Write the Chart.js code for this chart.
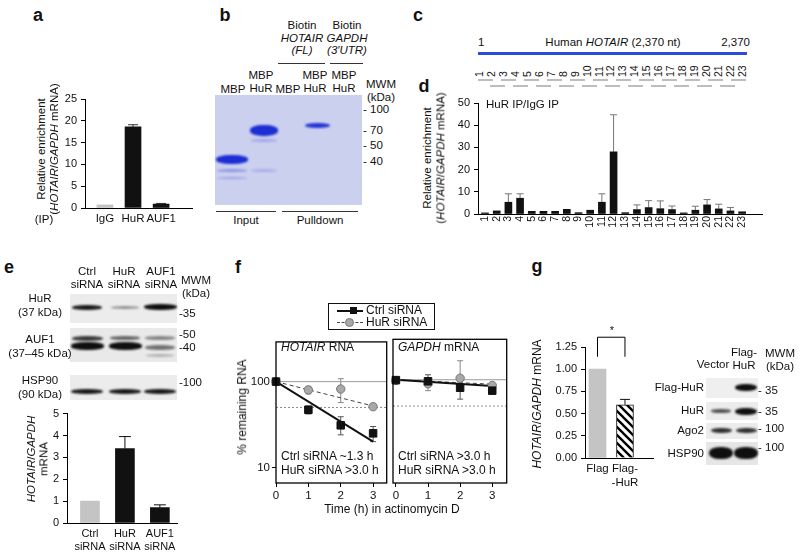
<!DOCTYPE html>
<html>
<head>
<meta charset="utf-8">
<script src="https://cdn.jsdelivr.net/npm/chart.js"></script>
<style>
  body { margin: 0; background: #fff; }
  #fig { position: relative; width: 800px; height: 556px; overflow: hidden;
         font-family: "Liberation Sans", Arial, sans-serif; font-size: 11px; color: #111; }
  .band { position: absolute; border-radius: 45%; filter: blur(1px); }
</style>
</head>
<body>
<div id="fig"></div>
<script>
// ---------------- DATA ----------------
// a: RIP enrichment
const ipLabels = ['IgG', 'HuR', 'AUF1'];
const ipEnrich = [0.7, 18.6, 0.9];
const ipErr = [0, 0.5, 0.15];

// d: HOTAIR fragments, HuR IP / IgG IP
const fragLabels = ['1','2','3','4','5','6','7','8','9','10','11','12','13','14','15','16','17','18','19','20','21','22','23'];
const fragEnrich = [0.5, 1.4, 5.3, 7.1, 1.2, 1.2, 1.2, 2.1, 0.6, 1.7, 5.3, 28, 0.6, 2.0, 2.9, 2.4, 2.0, 0.5, 1.7, 4.1, 2.3, 1.4, 1.0];
const fragErr    = [0, 0, 3.8, 2.0, 0, 0, 0, 0, 0, 0, 3.8, 16.7, 0, 2.1, 3.1, 3.5, 1.6, 0, 1.8, 2.4, 2.1, 1.5, 0];

// e: HOTAIR/GAPDH after siRNA
const siLabels = [['Ctrl', 'siRNA'], ['HuR', 'siRNA'], ['AUF1', 'siRNA']];
const siHotair = [1.0, 3.4, 0.7];
const siErr = [0, 0.55, 0.13];

// f: % remaining RNA in actinomycin D
const timeH = [0, 1, 2, 3];
const hotCtrl   = [100, 47, 31, 25];
const hotCtrlHi = [null, 52, 39, 30];
const hotCtrlLo = [null, 42, 24, 20];
const hotHuR    = [100, 80, 82, 51];
const hotHuRHi  = [null, 88, 108, 54];
const hotHuRLo  = [null, 72, 57, 49];
const gapCtrl   = [99, 96, 81, 75];
const gapCtrlHi = [null, 114, 95, 80];
const gapCtrlLo = [null, 84, 60, 70];
const gapHuR    = [98, 90, 104, 86];
const gapHuRHi  = [null, 104, 165, 90];
const gapHuRLo  = [null, 75, 85, 81];
const fitT = [0, 3];
const hotCtrlFit = [100, 20];
const hotHuRFit  = [100, 52];
const gapCtrlFit = [100, 85];
const gapHuRFit  = [100, 89];
const refLevels = [100, 50];
const logTicks = [10, 100];
const timeTicks = [0, 1, 2, 3];

// g: Flag-HuR overexpression
const flagLabels = ['Flag', ['Flag-', '-HuR']];
const flagVals = [1.0, 0.6];
const flagErr = [0, 0.06];

// ---------------- HELPERS ----------------
Chart.defaults.font.family = '"Liberation Sans", Arial, sans-serif';
Chart.defaults.font.size = 11;
Chart.defaults.color = '#111';
Chart.defaults.animation = false;

const fig = document.getElementById('fig');
function el(css, html) {
  const d = document.createElement('div');
  d.style.cssText = 'position:absolute;' + css;
  if (html) d.innerHTML = html;
  fig.appendChild(d);
  return d;
}
function T(x, y, html, o) {
  o = o || {};
  const tx = {c: '-50%', l: '0', r: '-100%'}[o.a || 'c'];
  el(`left:${x}px;top:${y}px;white-space:nowrap;line-height:${o.lh || 1.15};text-align:center;font-size:${o.s || 11.5}px;` +
     (o.b ? 'font-weight:bold;' : '') +
     `transform:translate(${tx},-50%)${o.rot ? ' rotate(-90deg)' : ''};`, html);
}
function box(x, y, w, h, bg) { return el(`left:${x}px;top:${y}px;width:${w}px;height:${h}px;background:${bg};`); }
function band(cx, cy, w, h, col) {
  const d = el(`left:${cx - w / 2}px;top:${cy - h / 2}px;width:${w}px;height:${h}px;background:${col};`);
  d.className = 'band';
}

// canvas placed so the chart area lands on the given page box
function chartBox(area, yW, xH, pt, pr, pl) {
  pt = pt ?? 12; pr = pr ?? 12; pl = pl ?? 2;
  const cv = document.createElement('canvas');
  const w = area.r - area.l + yW + pl + pr, h = area.b - area.t + pt + xH;
  cv.style.cssText = `position:absolute;left:${area.l - yW - pl}px;top:${area.t - pt}px;width:${w}px;height:${h}px;`;
  cv.width = w; cv.height = h;
  fig.appendChild(cv);
  return {cv, padding: {left: pl, top: pt, right: pr, bottom: 0}};
}

function yLin(min, max, step, width, fmt) {
  return {
    min, max,
    ticks: {stepSize: step, padding: 4, callback: fmt || (v => v)},
    grid: {display: true, drawOnChartArea: false, drawTicks: true, tickLength: 4, color: '#000'},
    border: {display: true, color: '#000', width: 1},
    afterFit: s => { s.width = width; }
  };
}
function xBars(min, max, labels, height, extra) {
  return {
    type: 'linear', min, max, offset: false,
    afterBuildTicks: s => { s.ticks = labels.map((_, i) => ({value: i + 1})); },
    ticks: Object.assign({callback: v => labels[v - 1], autoSkip: false, maxRotation: 0, padding: 4}, extra || {}),
    grid: {display: false, drawTicks: false, offset: false},
    border: {display: true, color: '#000', width: 1},
    afterFit: s => { s.height = height; }
  };
}
const pts = (xs, ys) => ys.map((v, i) => ({x: xs[i], y: v}));
const barPts = ys => ys.map((v, i) => ({x: i + 1, y: v}));

// ---------------- PLUGINS ----------------
const errBars = {
  id: 'errBars',
  beforeDatasetsDraw(chart, args, o) {
    const ctx = chart.ctx, ys = chart.scales.y;
    (o.sets || []).forEach(s => {
      const meta = chart.getDatasetMeta(s.ds);
      const ds = chart.data.datasets[s.ds];
      ctx.save();
      ctx.strokeStyle = s.color || '#000';
      ctx.lineWidth = s.lw || 1;
      meta.data.forEach((p, i) => {
        const v = ds.data[i].y;
        let hi, lo;
        if (s.err) { if (!s.err[i]) return; hi = v + s.err[i]; lo = v; }
        else { if (s.hi[i] == null) return; hi = s.hi[i]; lo = s.lo[i]; }
        const x = p.x, y1 = ys.getPixelForValue(hi), y0 = ys.getPixelForValue(lo), c = s.cap || 3;
        ctx.beginPath();
        ctx.moveTo(x, y0); ctx.lineTo(x, y1);
        ctx.moveTo(x - c, y1); ctx.lineTo(x + c, y1);
        if (!s.err) { ctx.moveTo(x - c, y0); ctx.lineTo(x + c, y0); }
        ctx.stroke();
      });
      ctx.restore();
    });
  }
};
const frame = {
  id: 'frame',
  afterDraw(chart) {
    const a = chart.chartArea, ctx = chart.ctx;
    ctx.save(); ctx.strokeStyle = '#000'; ctx.lineWidth = 1.3;
    ctx.strokeRect(a.left, a.top, a.right - a.left, a.bottom - a.top);
    ctx.restore();
  }
};
const bracket = {
  id: 'bracket',
  afterDraw(chart, args, o) {
    const xs = chart.scales.x, ys = chart.scales.y, ctx = chart.ctx;
    const x1 = xs.getPixelForValue(o.from), x2 = xs.getPixelForValue(o.to);
    const yt = ys.getPixelForValue(o.top), yl = ys.getPixelForValue(o.leg);
    ctx.save(); ctx.strokeStyle = '#000'; ctx.lineWidth = 1;
    ctx.beginPath();
    ctx.moveTo(x1, yl); ctx.lineTo(x1, yt); ctx.lineTo(x2, yt); ctx.lineTo(x2, yl);
    ctx.stroke(); ctx.restore();
  }
};

// ---------------- PANEL LETTERS ----------------
[['a', 38, 15], ['b', 225, 15], ['c', 418, 15], ['d', 424, 86], ['e', 9, 267], ['f', 238, 267], ['g', 537, 266]]
  .forEach(l => T(l[1], l[2], l[0], {s: 18, b: true}));

// ---------------- PANEL a ----------------
{
  const g = chartBox({l: 85, t: 99, r: 192, b: 208}, 26, 24);
  new Chart(g.cv, {
    type: 'bar',
    data: {datasets: [{data: barPts(ipEnrich), backgroundColor: ['#c4c4c4', '#111', '#111'], barThickness: 16}]},
    options: {
      responsive: false, layout: {padding: g.padding},
      plugins: {legend: {display: false}, tooltip: {enabled: false},
                errBars: {sets: [{ds: 0, err: ipErr, color: '#333', cap: 5}]}},
      scales: {x: xBars(0.29, 4.1, ipLabels, 24, {font: {size: 11.5}}), y: yLin(0, 25, 5, 26)}
    },
    plugins: [errBars]
  });
  T(42, 149, 'Relative enrichment', {rot: true});
  T(55, 149, '(<i>HOTAIR</i>/<i>GAPDH</i> mRNA)', {rot: true});
  T(44, 220, '(IP)');
}

// ---------------- PANEL b (gel) ----------------
{
  box(215, 95, 147, 110, 'rgb(203,208,238)');
  const blue = 'rgba(28,45,212,';
  band(232, 159, 32, 9, blue + '1)');
  band(232, 170, 30, 3, blue + '0.35)');
  band(232, 178, 30, 2, blue + '0.25)');
  band(264, 130, 28, 11, blue + '1)');
  band(264, 140, 26, 3, blue + '0.25)');
  band(264, 170, 26, 3, blue + '0.2)');
  band(317, 125, 25, 5, blue + '0.95)');
  T(233, 90, 'MBP');
  T(261, 82, 'MBP<br>HuR', {lh: 1.1});
  T(288, 90, 'MBP');
  T(315, 82, 'MBP<br>HuR', {lh: 1.1});
  T(344, 82, 'MBP<br>HuR', {lh: 1.1});
  T(302, 38, 'Biotin<br><i>HOTAIR</i><br><i>(FL)</i>', {lh: 1.1});
  T(347, 38, 'Biotin<br><i>GAPDH</i><br><i>(3′UTR)</i>', {lh: 1.1});
  box(278, 63, 47, 1, '#333');
  box(330, 63, 33, 1, '#333');
  T(366, 91, 'MWM<br>(kDa)', {a: 'l', lh: 1.1});
  [['100', 110], ['70', 131], ['50', 146], ['40', 162]].forEach(m => T(363, m[1], '- ' + m[0], {a: 'l'}));
  box(216, 211, 60, 1, '#333');
  box(282, 211, 76, 1, '#333');
  T(246, 221, 'Input');
  T(320, 221, 'Pulldown');
}

// ---------------- PANEL c (map) ----------------
{
  T(478, 43, '1', {a: 'l'});
  T(613, 43, 'Human <i>HOTAIR</i> (2,370 nt)');
  T(750, 43, '2,370', {a: 'r'});
  box(478, 52, 269, 3, '#2b4bd8');
  fragLabels.forEach((t, i) => {
    el(`left:${479 + i * 11.95 - 6}px;top:77px;font-size:10.5px;line-height:12px;white-space:nowrap;transform-origin:0 0;transform:rotate(-90deg);`, t);
  });
  for (let i = 0; i < 12; i++) box(478 + 23 * i, 79, 15, 2, '#bdbdbd');
  for (let i = 0; i < 11; i++) box(490 + 23 * i, 85, 15, 2, '#bdbdbd');
}

// ---------------- PANEL d ----------------
{
  const g = chartBox({l: 478, t: 103, r: 762, b: 214}, 30, 26);
  new Chart(g.cv, {
    type: 'bar',
    data: {datasets: [{data: barPts(fragEnrich), backgroundColor: '#111', barThickness: 7}]},
    options: {
      responsive: false, layout: {padding: g.padding},
      plugins: {legend: {display: false}, tooltip: {enabled: false},
                errBars: {sets: [{ds: 0, err: fragErr, color: '#777', cap: 3.5}]}},
      scales: {x: xBars(0.4, 24.7, fragLabels, 26, {minRotation: 90, maxRotation: 90, padding: 2, font: {size: 10.5}}),
               y: yLin(0, 50, 10, 30)}
    },
    plugins: [errBars]
  });
  T(428, 158, 'Relative enrichment', {rot: true});
  T(441, 158, '(<i>HOTAIR</i>/<i>GAPDH</i> mRNA)', {rot: true});
  T(486, 105, 'HuR IP/IgG IP', {a: 'l'});
}

// ---------------- PANEL e ----------------
{
  const k = 'rgba(15,15,15,';
  const lanes = [87, 125, 160];
  T(87, 278, 'Ctrl<br>siRNA', {lh: 1.1});
  T(124, 278, 'HuR<br>siRNA', {lh: 1.1});
  T(161, 278, 'AUF1<br>siRNA', {lh: 1.1});
  T(181, 287, 'MWM<br>(kDa)', {a: 'l', lh: 1.1});
  box(70, 294, 107, 29, '#ececec');
  band(lanes[0], 307, 30, 5, k + '0.95)');
  band(lanes[1], 307, 28, 3, k + '0.4)');
  band(lanes[2], 307, 33, 6, k + '1)');
  box(70, 328, 107, 34, '#e9e9e9');
  band(lanes[0], 338, 31, 5, k + '0.8)');
  band(lanes[1], 338, 30, 4, k + '0.6)');
  band(lanes[2], 338, 30, 4, k + '0.45)');
  band(lanes[0], 346, 33, 8, k + '1)');
  band(lanes[1], 346, 33, 8, k + '1)');
  band(lanes[2], 347, 30, 5, k + '0.55)');
  band(lanes[2], 355, 28, 3, k + '0.25)');
  box(70, 375, 107, 25, '#ececec');
  lanes.forEach(x => band(x, 391, 32, 5, k + '0.95)'));
  T(40, 305, 'HuR<br>(37 kDa)', {lh: 1.25});
  T(40, 346, 'AUF1<br>(37–45 kDa)', {lh: 1.25});
  T(40, 387, 'HSP90<br>(90 kDa)', {lh: 1.25});
  [['-35', 314], ['-50', 335], ['-40', 348], ['-100', 383]].forEach(m => T(179, m[1], m[0], {a: 'l'}));

  const g = chartBox({l: 67, t: 413, r: 177, b: 523}, 20, 32, 10);
  new Chart(g.cv, {
    type: 'bar',
    data: {datasets: [{data: barPts(siHotair), backgroundColor: ['#c4c4c4', '#111', '#111'], barThickness: 19}]},
    options: {
      responsive: false, layout: {padding: g.padding},
      plugins: {legend: {display: false}, tooltip: {enabled: false},
                errBars: {sets: [{ds: 0, err: siErr, color: '#111', cap: 6}]}},
      scales: {x: xBars(0.343, 3.49, siLabels, 32, {padding: 4, font: {size: 11}}), y: yLin(0, 5, 1, 20)}
    },
    plugins: [errBars]
  });
  T(32, 459, '<i>HOTAIR</i>/<i>GAPDH</i>', {rot: true});
  T(44, 459, 'mRNA', {rot: true});
}

// ---------------- PANEL f ----------------
function decayChart(area, yW, pl, xmin, xmax, ctrl, ctrlHi, ctrlLo, huR, huRHi, huRLo, ctrlFit, huRFit, showY) {
  const g = chartBox(area, yW, 18, 4, 4, pl);
  const refs = refLevels.map((lv, i) => ({
    data: [{x: xmin, y: lv}, {x: xmax, y: lv}], showLine: true, pointRadius: 0,
    borderColor: i === 0 ? '#9a9a9a' : '#8a8a8a', borderWidth: 1, borderDash: i === 0 ? [] : [2, 2], order: 10
  }));
  new Chart(g.cv, {
    type: 'scatter',
    data: {datasets: [
      {data: pts(timeH, ctrl), pointStyle: 'rect', pointRadius: 5.3, backgroundColor: '#111', borderColor: '#111', order: 1, clip: false},
      {data: pts(timeH, huR), pointStyle: 'circle', pointRadius: 4.2, backgroundColor: '#a8a8a8', borderColor: '#777', borderWidth: 1, order: 2, clip: false},
      {data: pts(fitT, ctrlFit), showLine: true, pointRadius: 0, borderColor: '#111', borderWidth: 2, order: 3},
      {data: pts(fitT, huRFit), showLine: true, pointRadius: 0, borderColor: '#444', borderWidth: 1, borderDash: [4, 3], order: 4},
      ...refs
    ]},
    options: {
      responsive: false, layout: {padding: g.padding},
      plugins: {legend: {display: false}, tooltip: {enabled: false},
                errBars: {sets: [{ds: 1, hi: huRHi, lo: huRLo, color: '#888', cap: 3},
                                 {ds: 0, hi: ctrlHi, lo: ctrlLo, color: '#555', cap: 3}]}},
      scales: {
        x: {type: 'linear', min: xmin, max: xmax,
            afterBuildTicks: s => { s.ticks = timeTicks.map(v => ({value: v})); },
            ticks: {padding: 2, callback: v => v, font: {size: 11.5}},
            grid: {display: true, drawOnChartArea: false, drawTicks: true, tickLength: 4, color: '#000'},
            border: {display: false},
            afterFit: s => { s.height = 18; }},
        y: {type: 'logarithmic', min: 6.6, max: 290, display: showY,
            afterBuildTicks: s => { s.ticks = logTicks.map(v => ({value: v})); },
            ticks: {padding: 2, callback: v => String(v), font: {size: 11.5}},
            grid: {display: true, drawOnChartArea: false, drawTicks: true, tickLength: 4, color: '#000'},
            border: {display: false},
            afterFit: s => { s.width = yW; }}
      }
    },
    plugins: [errBars, frame]
  });
}
decayChart({l: 276, t: 337, r: 389, b: 483}, 26, 2, 0, 3.42,
  hotCtrl, hotCtrlHi, hotCtrlLo, hotHuR, hotHuRHi, hotHuRLo, hotCtrlFit, hotHuRFit, true);
decayChart({l: 393, t: 337, r: 509, b: 483}, 0, 8, -0.09, 3.45,
  gapCtrl, gapCtrlHi, gapCtrlLo, gapHuR, gapHuRHi, gapHuRLo, gapCtrlFit, gapHuRFit, false);
{
  T(281, 348, '<i>HOTAIR</i> RNA', {a: 'l', s: 12});
  T(398, 348, '<i>GAPDH</i> mRNA', {a: 'l', s: 12});
  T(281, 457, 'Ctrl siRNA ~1.3 h', {a: 'l', s: 12});
  T(281, 471, 'HuR siRNA >3.0 h', {a: 'l', s: 12});
  T(398, 457, 'Ctrl siRNA >3.0 h', {a: 'l', s: 12});
  T(398, 471, 'HuR siRNA >3.0 h', {a: 'l', s: 12});
  T(243, 407, '% remaining RNA', {rot: true, s: 12});
  T(392, 510, 'Time (h) in actinomycin D', {s: 12});
  // legend
  el('left:328px;top:303px;width:105px;height:25px;border:1px solid #111;');
  el('left:337px;top:310px;width:26px;height:0;border-top:2px solid #111;');
  el('left:350px;top:307px;width:7px;height:7px;background:#111;');
  el('left:337px;top:322px;width:26px;height:0;border-top:1px dashed #444;');
  el('left:345px;top:318px;width:7px;height:7px;border-radius:50%;background:#a8a8a8;border:1px solid #777;');
  T(366, 311, 'Ctrl siRNA', {a: 'l', s: 12});
  T(366, 323, 'HuR siRNA', {a: 'l', s: 12});
}

// ---------------- PANEL g ----------------
{
  const hc = document.createElement('canvas'); hc.width = 8; hc.height = 8;
  const hx = hc.getContext('2d');
  hx.fillStyle = '#fff'; hx.fillRect(0, 0, 8, 8);
  hx.strokeStyle = '#000'; hx.lineWidth = 2.3;
  hx.beginPath();
  hx.moveTo(-1, -1); hx.lineTo(9, 9);
  hx.moveTo(-5, 3); hx.lineTo(5, 13);
  hx.moveTo(3, -5); hx.lineTo(13, 5);
  hx.stroke();
  const hatch = hx.createPattern(hc, 'repeat');

  const g = chartBox({l: 585, t: 347, r: 653, b: 458}, 32, 32, 26);
  new Chart(g.cv, {
    type: 'bar',
    data: {datasets: [{data: barPts(flagVals), backgroundColor: ['#c4c4c4', hatch],
                       borderColor: ['#c4c4c4', '#111'], borderWidth: [0, 1], barThickness: 17}]},
    options: {
      responsive: false, layout: {padding: g.padding},
      plugins: {legend: {display: false}, tooltip: {enabled: false},
                errBars: {sets: [{ds: 0, err: flagErr, color: '#111', cap: 5}]},
                bracket: {from: 1, to: 2, top: 1.36, leg: 1.14}},
      scales: {x: xBars(0.545, 3.02, flagLabels, 32, {padding: 4, font: {size: 11.5}}),
               y: yLin(0, 1.25, 0.25, 32, v => v.toFixed(2))}
    },
    plugins: [errBars, bracket]
  });
  T(612, 330, '*', {s: 11});
  T(538, 404, '<i>HOTAIR</i>/<i>GAPDH</i> mRNA', {rot: true, s: 12});

  const k = 'rgba(15,15,15,';
  const lanes = [721, 746];
  T(713, 365, 'Vector', {s: 11.5});
  T(744, 359, 'Flag-<br>HuR', {s: 11.5, lh: 1.1});
  T(765, 360, 'MWM<br>(kDa)', {a: 'l', s: 11.5, lh: 1.1});
  box(706, 378, 52, 20, '#efefef');
  band(lanes[1], 387, 22, 7, k + '1)');
  box(706, 402, 52, 18, '#ececec');
  band(lanes[0], 411, 20, 4, k + '0.7)');
  band(lanes[1], 411, 22, 7, k + '1)');
  box(706, 423, 52, 16, '#ececec');
  lanes.forEach(x => band(x, 430, 21, 5, k + '0.85)'));
  box(706, 442, 52, 23, '#e6e6e6');
  lanes.forEach(x => band(x, 453, 24, 12, k + '1)'));
  [['Flag-HuR', 388], ['HuR', 411], ['Ago2', 431], ['HSP90', 454]].forEach(m => T(704, m[1], m[0], {a: 'r', s: 11.5}));
  [['- 35', 391], ['- 35', 412], ['- 100', 429], ['- 100', 448]].forEach(m => T(758, m[1], m[0], {a: 'l', s: 11.5}));
}
</script>
</body>
</html>
